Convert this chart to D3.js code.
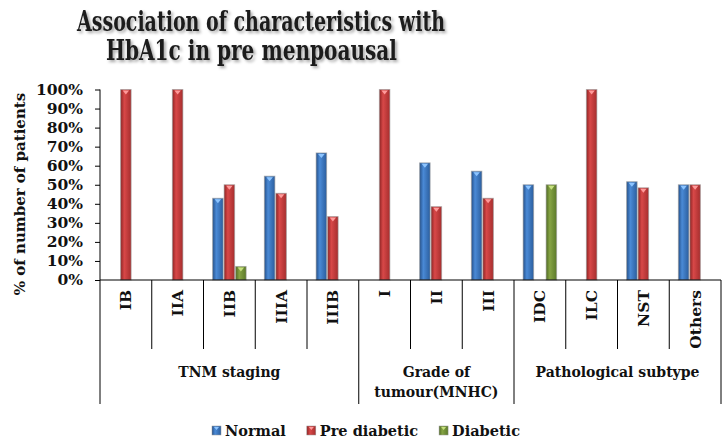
<!DOCTYPE html>
<html>
<head>
<meta charset="utf-8">
<script src="https://d3js.org/d3.v7.min.js"></script>
<style>
  body { margin: 0; background: #fff; }
  text { font-family: "DejaVu Serif", serif; font-weight: bold; fill: #111; }
</style>
</head>
<body>
<svg width="723" height="445"></svg>
<script>
// data (percent of patients)
const categories = ["IB", "IIA", "IIB", "IIIA", "IIIB", "I", "II", "III", "IDC", "ILC", "NST", "Others"];
const groupNames = [["TNM staging"], ["Grade of", "tumour(MNHC)"], ["Pathological subtype"]];
const groupSizes = [5, 3, 4];
const seriesNames = ["Normal", "Pre diabetic", "Diabetic"];
const normal      = [0, 0, 42.9, 54.5, 66.7, 0, 61.5, 57.1, 50, 0, 51.6, 50];
const preDiabetic = [100, 100, 50, 45.5, 33.3, 100, 38.5, 42.9, 0, 100, 48.4, 50];
const diabetic    = [0, 0, 7.1, 0, 0, 0, 0, 0, 50, 0, 0, 0];
const yTicks = [0, 10, 20, 30, 40, 50, 60, 70, 80, 90, 100];

const svg = d3.select("svg");
const plotLeft = 100, plotRight = 721, plotTop = 89.5, plotBase = 280;

const colors = {
  "Normal":       ["#24508a", "#4a8ad6", "#2b5e9e"],
  "Pre diabetic": ["#8e2424", "#d84848", "#a62e2e"],
  "Diabetic":     ["#4f6a22", "#86a444", "#5c7a2a"]
};
const tipColors = { "Normal": "#8cc4ff", "Pre diabetic": "#ff9a9a", "Diabetic": "#c6e07e" };

const defs = svg.append("defs");
seriesNames.forEach((s, i) => {
  const g = defs.append("linearGradient").attr("id", "grad" + i)
      .attr("x1", "0%").attr("x2", "100%").attr("y1", "0%").attr("y2", "0%");
  g.append("stop").attr("offset", "0%").attr("stop-color", colors[s][0]);
  g.append("stop").attr("offset", "35%").attr("stop-color", colors[s][1]);
  g.append("stop").attr("offset", "100%").attr("stop-color", colors[s][2]);
});
const shadow = defs.append("filter").attr("id", "shadow")
    .attr("x", "-10%").attr("y", "-20%").attr("width", "130%").attr("height", "160%");
shadow.append("feDropShadow").attr("dx", 2).attr("dy", 2).attr("stdDeviation", 1.8)
    .attr("flood-color", "#000").attr("flood-opacity", 0.35);

// title
const title = ["Association of characteristics with", "HbA1c in pre menpoausal"];
const titleWidths = [368, 291];
svg.append("g").attr("filter", "url(#shadow)")
  .selectAll("text").data(title).join("text")
    .attr("x", (d, i) => i === 0 ? 261 : 251.5)
    .attr("y", (d, i) => 31 + i * 29)
    .attr("text-anchor", "middle")
    .attr("font-size", 27)
    .attr("textLength", (d, i) => titleWidths[i])
    .attr("lengthAdjust", "spacingAndGlyphs")
    .style("fill", "#1c1c1c")
    .text(d => d);

// scales
const x0 = d3.scaleBand().domain(categories).range([plotLeft, plotRight]).padding(0);
const x1 = d3.scaleBand().domain(seriesNames).range([0, x0.bandwidth()])
    .paddingInner(0).paddingOuter(0.75);
const y = d3.scaleLinear().domain([0, 100]).range([plotBase, plotTop]);

// y axis
const yAxis = svg.append("g").attr("transform", `translate(${plotLeft},0)`)
    .call(d3.axisLeft(y).tickValues(yTicks).tickFormat(d => d + "%").tickSize(5).tickPadding(12));
yAxis.select(".domain").attr("stroke", "#000").attr("d", `M0,${plotTop}V${plotBase}`);
yAxis.selectAll(".tick line").attr("stroke", "#000");
yAxis.selectAll(".tick text").attr("font-size", 15.5).attr("font-family", "DejaVu Serif")
    .attr("font-weight", "bold").attr("fill", "#111");

svg.append("text")
    .attr("transform", "translate(25,194) rotate(-90)")
    .attr("text-anchor", "middle")
    .attr("font-size", 15)
    .text("% of number of patients");

// bars
const rows = categories.map((c, i) => ({ cat: c, vals: [normal[i], preDiabetic[i], diabetic[i]] }));
const barData = [];
rows.forEach(r => r.vals.forEach((v, j) => { if (v > 0) barData.push({ cat: r.cat, s: seriesNames[j], j: j, v: v }); }));

const bars = svg.append("g").selectAll("g").data(barData).join("g");
bars.append("rect")
    .attr("x", d => x0(d.cat) + x1(d.s) + 0.5)
    .attr("y", d => y(d.v))
    .attr("width", x1.bandwidth() - 1)
    .attr("height", d => plotBase - y(d.v))
    .attr("fill", d => `url(#grad${d.j})`)
    .attr("stroke", "#9a9a9a").attr("stroke-opacity", 0.6).attr("stroke-width", 1);
bars.append("path")
    .attr("d", d => {
      const bx = x0(d.cat) + x1(d.s), w = x1.bandwidth(), ty = y(d.v) + 1;
      return `M${bx + w * 0.22},${ty}L${bx + w * 0.78},${ty}L${bx + w * 0.5},${ty + 4}Z`;
    })
    .attr("fill", d => tipColors[d.s]);

// x axis frame
svg.append("line").attr("x1", plotLeft).attr("x2", plotRight)
    .attr("y1", plotBase).attr("y2", plotBase).attr("stroke", "#000");
const groupStarts = [];
let acc = 0;
groupSizes.forEach(n => { groupStarts.push(acc); acc += n; });
const isGroupEdge = i => i === 0 || i === categories.length || groupStarts.includes(i);
const edges = d3.range(categories.length + 1);
svg.append("g").selectAll("line").data(edges).join("line")
    .attr("x1", i => i < categories.length ? x0(categories[i]) : plotRight)
    .attr("x2", i => i < categories.length ? x0(categories[i]) : plotRight)
    .attr("y1", plotBase)
    .attr("y2", i => isGroupEdge(i) ? 404 : 349)
    .attr("stroke", "#000");

// category labels
svg.append("g").selectAll("text").data(categories).join("text")
    .attr("transform", d => `translate(${x0(d) + x0.bandwidth() / 2},290) rotate(-90)`)
    .attr("text-anchor", "end")
    .attr("dy", "0.36em")
    .attr("font-size", 15.5)
    .text(d => d);

// group labels
const glab = svg.append("g").selectAll("text").data(groupNames).join("text")
    .attr("text-anchor", "middle")
    .attr("font-size", 14)
    .attr("x", (d, i) => {
      const a = x0(categories[groupStarts[i]]);
      const b = x0(categories[groupStarts[i] + groupSizes[i] - 1]) + x0.bandwidth();
      return (a + b) / 2;
    })
    .attr("y", 376.5);
glab.selectAll("tspan").data(d => d).join("tspan")
    .attr("x", function() { return this.parentNode.getAttribute("x"); })
    .attr("dy", (d, i) => i === 0 ? 0 : 20.5)
    .text(d => d);

// legend
const legend = svg.append("g");
let lx = 212;
seriesNames.forEach((s, i) => {
  legend.append("rect").attr("x", lx).attr("y", 426).attr("width", 9).attr("height", 9)
      .attr("fill", `url(#grad${i})`).attr("stroke", "#999").attr("stroke-width", 0.5);
  legend.append("path")
      .attr("d", `M${lx + 2},${427}L${lx + 7},${427}L${lx + 4.5},${430}Z`)
      .attr("fill", tipColors[s]);
  const t = legend.append("text").attr("x", lx + 13).attr("y", 436).attr("font-size", 14.5).text(s);
  lx += 13 + t.node().getComputedTextLength() + 21;
});
</script>
</body>
</html>
